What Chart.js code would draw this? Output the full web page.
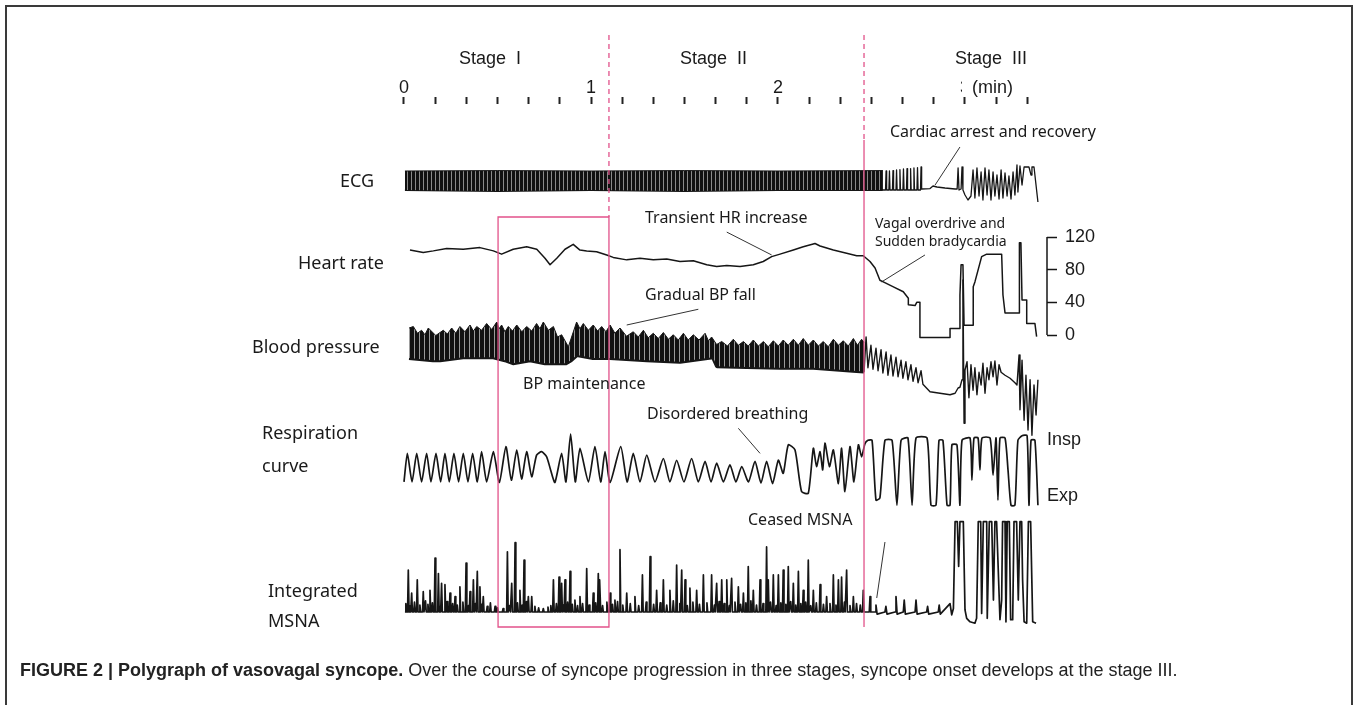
<!DOCTYPE html>
<html>
<head>
<meta charset="utf-8">
<script src="https://cdn.jsdelivr.net/npm/chart.js@4.4.1/dist/chart.umd.min.js"></script>
<style>
  html, body { margin: 0; padding: 0; background: #fff; }
  #page { position: relative; width: 1354px; height: 705px; overflow: hidden; }
  #frame { position: absolute; left: 5px; top: 5px; width: 1348px; height: 720px; border: 2px solid #3a3a3a; border-bottom: none; box-sizing: border-box; }
  #chart { position: absolute; left: 0; top: 0; }
  .lbl { position: absolute; transform: translateY(-50%); white-space: pre; color: #1a1a1a; line-height: 1; }
  .trace { font-family: "Noto Sans", sans-serif; font-size: 18px; }
  .note { font-family: "Noto Sans", sans-serif; font-size: 16px; }
  .note-sm { font-family: "Noto Sans", sans-serif; font-size: 14px; line-height: 18px; }
  .arial { font-family: "Liberation Sans", Arial, sans-serif; font-size: 18px; }
  .min { background: #fff; padding-left: 10px; }
  #caption { position: absolute; left: 20px; top: 660px; font-family: "Liberation Sans", Arial, sans-serif; font-size: 18px; color: #222; white-space: nowrap; }
</style>
</head>
<body>
<div id="page">
  <div id="frame"></div>
  <canvas id="chart" width="1354" height="705"></canvas>

  <div class="lbl arial" style="left:459px;top:58px">Stage  I</div>
  <div class="lbl arial" style="left:680px;top:58px">Stage  II</div>
  <div class="lbl arial" style="left:955px;top:58px">Stage  III</div>
  <div class="lbl arial min" style="left:962px;top:87px">(min)</div>

  <div class="lbl trace" style="left:340px;top:180px">ECG</div>
  <div class="lbl trace" style="left:298px;top:262px">Heart rate</div>
  <div class="lbl trace" style="left:252px;top:346px">Blood pressure</div>
  <div class="lbl trace" style="left:262px;top:432px">Respiration</div>
  <div class="lbl trace" style="left:262px;top:465px">curve</div>
  <div class="lbl trace" style="left:268px;top:590px">Integrated</div>
  <div class="lbl trace" style="left:268px;top:620px">MSNA</div>

  <div class="lbl note" style="left:890px;top:131px">Cardiac arrest and recovery</div>
  <div class="lbl note" style="left:645px;top:217px">Transient HR increase</div>
  <div class="lbl note-sm" style="left:875px;top:232px">Vagal overdrive and<br>Sudden bradycardia</div>
  <div class="lbl note" style="left:645px;top:294px">Gradual BP fall</div>
  <div class="lbl note" style="left:523px;top:383px">BP maintenance</div>
  <div class="lbl note" style="left:647px;top:413px">Disordered breathing</div>
  <div class="lbl note" style="left:748px;top:519px">Ceased MSNA</div>

  <div class="lbl arial" style="left:1047px;top:439px">Insp</div>
  <div class="lbl arial" style="left:1047px;top:495px">Exp</div>

  <div id="caption"><b>FIGURE 2 | Polygraph of vasovagal syncope.</b> Over the course of syncope progression in three stages, syncope onset develops at the stage III.</div>
</div>

<script>
// time axis (min)
const X_TICKS = [0, 0.1667, 0.3333, 0.5, 0.6667, 0.8333, 1, 1.1667, 1.3333, 1.5, 1.6667, 1.8333, 2,
  2.1667, 2.3333, 2.5, 2.6667, 2.8333, 3, 3.1667, 3.3333];
const X_LABELED = [0, 1, 2, 3];
const STAGE_BOUNDS = [1.096, 2.46];
const HIGHLIGHT_FROM = 0.503;

// heart rate scale (bpm)
const HR_TICKS = [0, 40, 80, 120];

// ECG (mV-ish): dense beats shown as envelope, then stage III trace
const ECG_BAND_T = [0.005, 0.5, 1.0, 1.5, 2.0, 2.561];
const ECG_BAND_TOP = [0.95, 0.97, 0.95, 0.97, 0.95, 0.97];
const ECG_BAND_BOTTOM = [0, -0.05, 0, -0.05, 0, 0];
const ECG3_T = [2.561, 2.575, 2.578, 2.581, 2.593, 2.596, 2.599, 2.612, 2.615, 2.618, 2.631, 2.634, 2.637,
  2.649, 2.652, 2.655, 2.668, 2.671, 2.674, 2.687, 2.690, 2.693, 2.706, 2.709, 2.712, 2.724, 2.727, 2.730,
  2.743, 2.746, 2.749, 2.762, 2.765, 2.768, 2.813, 2.829, 2.850, 2.893, 2.947, 2.958, 2.963, 2.968,
  2.979, 2.984, 2.989, 3.0, 3.016, 3.032, 3.043, 3.053, 3.064, 3.075, 3.086, 3.096, 3.107, 3.118,
  3.128, 3.139, 3.150, 3.160, 3.171, 3.182, 3.193, 3.203, 3.214, 3.225, 3.235, 3.246, 3.257, 3.267,
  3.278, 3.283, 3.294, 3.305, 3.316, 3.342, 3.353, 3.358, 3.369, 3.390];
const ECG3_V = [0, 0, 0.95, 0, 0, 0.95, 0, 0, 0.97, 0, 0, 1.0, 0,
  0, 1.02, 0, 0, 1.05, 0, 0, 1.07, 0, 0, 1.07, 0, 0, 1.1, 0,
  0, 1.12, 0, 0, 1.15, 0.05, 0.07, 0.2, 0.15, 0.1, 0.05, 0.05, 1.1, 0.0,
  0.05, 1.15, 0, -0.25, -0.5, -0.3, 1.0, -0.4, 1.1, -0.3, 0.9, -0.5, 1.1, -0.25,
  1.0, -0.5, 0.9, -0.3, 0.75, -0.45, 1.0, -0.4, 0.85, -0.3, 0.7, -0.45, 0.9, -0.25,
  1.25, -0.1, 1.2, 0.25, 1.15, 1.15, 0.75, 1.15, 1.15, -0.6];

// heart rate (bpm)
const HR_T = [0.032, 0.103, 0.157, 0.228, 0.317, 0.406, 0.478, 0.522, 0.584, 0.656, 0.710, 0.754, 0.781,
  0.817, 0.861, 0.905, 0.941, 0.977, 1.030, 1.084, 1.119, 1.191, 1.262, 1.333, 1.405, 1.476, 1.547,
  1.619, 1.672, 1.726, 1.797, 1.868, 1.921, 1.966, 2.011, 2.082, 2.135, 2.198, 2.225, 2.296, 2.367,
  2.421, 2.456, 2.492, 2.519, 2.545, 2.563, 2.617, 2.670, 2.697, 2.697, 2.733, 2.742, 2.759, 2.759,
  2.920, 2.920, 2.973, 2.973, 2.979, 2.989, 2.995, 3.044, 3.044, 3.053, 3.089, 3.116, 3.196, 3.203,
  3.214, 3.289, 3.291, 3.299, 3.305, 3.330, 3.330, 3.374, 3.383];
const HR_BPM = [104, 101, 103, 106, 105, 107, 103, 99, 105, 108, 105, 94, 86,
  94, 105, 111, 104, 103, 102, 98, 95, 92, 94, 92, 93, 90, 91,
  86, 84, 85, 84, 86, 90, 96, 99, 104, 108, 112, 109, 104, 100,
  97, 97, 90, 82, 67, 65, 59, 53, 45, 37, 36, 40, 40, -3,
  -3, 8, 8, 49, 86, 86, 12, 12, 59, 65, 96, 99, 99, 49,
  27, 27, 113, 113, 43, 43, 14, 14, -2];

// blood pressure (mmHg): systolic peaks / diastolic floor of the beat band, then stage III trace
const BP_SYS_T = [0.027, 0.050, 0.072, 0.094, 0.112, 0.130, 0.170, 0.210, 0.232, 0.255, 0.277, 0.299,
  0.326, 0.353, 0.371, 0.389, 0.415, 0.442, 0.469, 0.496, 0.509, 0.522, 0.540, 0.558, 0.580, 0.603,
  0.630, 0.656, 0.683, 0.709, 0.727, 0.745, 0.772, 0.799, 0.821, 0.843, 0.879, 0.923, 0.941, 0.959,
  0.986, 1.012, 1.035, 1.057, 1.080, 1.102, 1.128, 1.155, 1.190, 1.226, 1.253, 1.280, 1.306, 1.333,
  1.360, 1.387, 1.414, 1.440, 1.467, 1.494, 1.520, 1.547, 1.578, 1.610, 1.628, 1.645, 1.672, 1.699,
  1.730, 1.761, 1.788, 1.815, 1.841, 1.868, 1.895, 1.922, 1.948, 1.975, 2.002, 2.028, 2.055, 2.082,
  2.109, 2.135, 2.162, 2.189, 2.216, 2.242, 2.269, 2.296, 2.323, 2.349, 2.376, 2.403, 2.425, 2.447, 2.460];
const BP_SYS = [116, 118, 109, 113, 107, 116, 106, 113, 108, 116, 109, 118,
  111, 120, 112, 118, 113, 122, 114, 124, 115, 120, 111, 118, 112, 120,
  111, 118, 112, 122, 115, 124, 113, 118, 104, 107, 91, 124, 115, 122,
  113, 120, 112, 118, 111, 120, 109, 116, 105, 111, 104, 113, 103, 109,
  102, 110, 101, 107, 100, 109, 100, 107, 100, 109, 99, 104, 94, 98,
  92, 101, 93, 98, 92, 100, 92, 98, 91, 99, 92, 100, 93, 101,
  93, 102, 93, 100, 92, 98, 91, 101, 93, 99, 92, 102, 93, 101, 97];
const BP_DIA_T = [0.027, 0.155, 0.193, 0.316, 0.478, 0.540, 0.583, 0.674, 0.754, 0.866, 0.893, 0.925,
  1.011, 1.102, 1.299, 1.476, 1.652, 1.674, 1.833, 2.011, 2.189, 2.401, 2.460];
const BP_DIA = [76, 73, 73, 77, 77, 73, 69, 73, 69, 69, 73, 80,
  76, 76, 73, 71, 77, 65, 64, 63, 63, 59, 58];
const BP3_T = [2.460, 2.471, 2.481, 2.497, 2.508, 2.524, 2.535, 2.551, 2.561, 2.578, 2.588, 2.604, 2.615,
  2.631, 2.642, 2.658, 2.668, 2.684, 2.695, 2.711, 2.722, 2.738, 2.749, 2.765, 2.775, 2.813, 2.866,
  2.920, 2.947, 2.963, 2.973, 2.984, 2.989, 2.995, 3.0, 3.011, 3.021, 3.032, 3.043, 3.053, 3.064,
  3.075, 3.086, 3.096, 3.107, 3.118, 3.128, 3.139, 3.150, 3.160, 3.171, 3.182, 3.193, 3.214, 3.241,
  3.267, 3.278, 3.289, 3.294, 3.305, 3.316, 3.326, 3.337, 3.348, 3.358, 3.369, 3.380, 3.390];
const BP3_MM = [57, 104, 63, 93, 61, 89, 59, 87, 56, 84, 53, 80, 52,
  77, 51, 73, 49, 71, 47, 67, 45, 63, 43, 59, 41, 31, 29,
  27, 29, 36, 37, 47, 180, -11, 60, 71, 23, 67, 33, 63, 27,
  57, 40, 69, 29, 63, 47, 71, 51, 72, 40, 67, 57, 53, 49,
  43, 40, 80, 7, 73, -7, 53, -20, 47, -27, 40, 0, 47];

// respiration (% of Exp..Insp span)
const RESP_T = [0.000, 0.018, 0.043, 0.068, 0.094, 0.121, 0.144, 0.171, 0.196, 0.219, 0.242, 0.267, 0.292,
  0.317, 0.342, 0.367, 0.392, 0.415, 0.442, 0.478, 0.510, 0.545, 0.574, 0.603, 0.629, 0.656, 0.683,
  0.709, 0.736, 0.763, 0.784, 0.807, 0.843, 0.866, 0.891, 0.916, 0.941, 0.986, 1.021, 1.052, 1.075,
  1.102, 1.159, 1.193, 1.226, 1.262, 1.298, 1.342, 1.387, 1.422, 1.458, 1.497, 1.538, 1.574, 1.610,
  1.642, 1.672, 1.708, 1.743, 1.775, 1.806, 1.842, 1.877, 1.909, 1.939, 1.971, 2.002, 2.028, 2.055,
  2.091, 2.126, 2.162, 2.189, 2.206, 2.225, 2.239, 2.251, 2.275, 2.296, 2.323, 2.340, 2.358, 2.385,
  2.406, 2.430, 2.447, 2.465, 2.481, 2.503, 2.524, 2.545, 2.572, 2.610, 2.636, 2.658, 2.695, 2.717,
  2.738, 2.797, 2.818, 2.845, 2.861, 2.882, 2.904, 2.920, 2.930, 2.957, 2.973, 2.984, 3.027, 3.037,
  3.048, 3.070, 3.080, 3.091, 3.134, 3.150, 3.166, 3.176, 3.187, 3.214, 3.230, 3.246, 3.267, 3.283,
  3.305, 3.332, 3.342, 3.353, 3.374, 3.390];
const RESP_PCT = [23, 73, 23, 73, 23, 73, 23, 73, 23, 73, 23, 73, 23,
  73, 23, 73, 23, 76, 23, 76, 22, 85, 26, 79, 28, 76, 32,
  70, 76, 67, 44, 22, 73, 23, 107, 23, 82, 23, 85, 23, 76,
  22, 85, 23, 73, 23, 70, 23, 64, 23, 61, 23, 64, 23, 59,
  23, 56, 23, 53, 23, 50, 23, 59, 21, 59, 20, 61, 38, 88,
  79, 6, 3, 82, 50, 76, 44, 91, 50, 79, 20, 82, 6, 85,
  23, 88, 67, 90, 96, 96, -9, -5, 96, 96, -18, 96, 100, -18,
  100, 100, -18, -18, 96, 96, -18, -18, 88, 88, -18, 96, 100, 26,
  100, 100, 44, 100, 100, 35, 100, -9, 100, 100, 44, -18, -18, 96,
  104, 104, -18, 96, 96, -18];

// integrated MSNA (a.u.): bursts in stages I-II (large, then small ripples), then stage III trace
const MSNA_SPIKE_T = [0.023, 0.041, 0.071, 0.103, 0.139, 0.166, 0.184, 0.201, 0.219, 0.246, 0.273, 0.299,
  0.332, 0.353, 0.371, 0.392, 0.406, 0.424, 0.487, 0.553, 0.576, 0.594, 0.620, 0.642, 0.665, 0.683,
  0.799, 0.829, 0.843, 0.861, 0.888, 0.914, 0.941, 0.977, 1.012, 1.039, 1.048, 1.102, 1.128, 1.155,
  1.191, 1.235, 1.275, 1.316, 1.351, 1.387, 1.422, 1.458, 1.485, 1.503, 1.529, 1.565, 1.601, 1.645,
  1.672, 1.699, 1.726, 1.752, 1.788, 1.815, 1.841, 1.868, 1.904, 1.939, 1.948, 1.975, 2.002, 2.028,
  2.055, 2.082, 2.109, 2.135, 2.162, 2.189, 2.225, 2.260, 2.296, 2.323, 2.340, 2.367, 2.403, 2.456,
  2.492];
const MSNA_SPIKE_H = [60, 27, 46, 29, 31, 77, 55, 41, 39, 27, 22, 36,
  70, 29, 46, 58, 36, 22, 8, 86, 41, 99, 31, 74, 22, 22,
  46, 50, 41, 46, 58, 17, 22, 62, 27, 55, 46, 27, 17, 89,
  27, 22, 53, 79, 31, 46, 31, 67, 60, 46, 34, 31, 53, 53,
  41, 46, 46, 48, 36, 27, 65, 31, 46, 93, 46, 53, 53, 60,
  65, 41, 58, 31, 74, 31, 39, 22, 53, 46, 50, 60, 22, 31,
  22];
const MSNA_RIPPLE_T = [0.010, 0.032, 0.056, 0.085, 0.115, 0.128, 0.152, 0.192, 0.230, 0.260, 0.285, 0.315,
  0.345, 0.382, 0.415, 0.445, 0.462, 0.500, 0.530, 0.565, 0.607, 0.632, 0.655, 0.700, 0.720, 0.745,
  0.770, 0.785, 0.815, 0.852, 0.875, 0.900, 0.928, 0.955, 0.990, 1.025, 1.062, 1.085, 1.115, 1.142,
  1.170, 1.210, 1.255, 1.295, 1.335, 1.370, 1.405, 1.440, 1.475, 1.515, 1.545, 1.580, 1.620, 1.660,
  1.685, 1.712, 1.740, 1.770, 1.800, 1.828, 1.855, 1.885, 1.920, 1.960, 1.990, 2.015, 2.042, 2.068,
  2.095, 2.122, 2.148, 2.175, 2.205, 2.243, 2.278, 2.310, 2.355, 2.385, 2.420, 2.440];
const MSNA_RIPPLE_H = [12, 9, 14, 10, 16, 11, 13, 8, 15, 12, 10, 14,
  9, 12, 11, 8, 13, 6, 5, 9, 13, 10, 15, 8, 6, 5,
  7, 9, 12, 10, 14, 11, 9, 12, 10, 13, 9, 14, 11, 15,
  10, 12, 9, 14, 11, 13, 10, 16, 12, 9, 14, 11, 13, 10,
  15, 12, 9, 14, 11, 13, 16, 10, 12, 14, 9, 13, 11, 15,
  10, 12, 14, 9, 13, 11, 12, 10, 14, 9, 12, 10];
const MSNA3_T = [2.519, 2.524, 2.530, 2.572, 2.577, 2.583, 2.626, 2.631, 2.637, 2.670, 2.675, 2.681,
  2.733, 2.738, 2.744, 2.795, 2.800, 2.806, 2.857, 2.862, 2.868, 2.920, 2.929, 2.938, 2.947, 2.959,
  2.966, 2.973, 2.991, 3.000, 3.009, 3.027, 3.053, 3.062, 3.071, 3.084, 3.089, 3.098, 3.116, 3.119,
  3.130, 3.143, 3.152, 3.160, 3.169, 3.187, 3.196, 3.201, 3.214, 3.219, 3.226, 3.237, 3.244, 3.255,
  3.262, 3.276, 3.285, 3.294, 3.303, 3.308, 3.316, 3.330, 3.339, 3.351, 3.362, 3.380];
const MSNA3_V = [0, 10, -3, 0, 8, -3, 0, 22, -3, 0, 17, -3,
  0, 17, -3, 0, 8, -3, 0, 10, -3, 12, -4, 5, 129, 129,
  65, 129, 129, 3, -9, -14, -16, -9, 129, 129, -2, 129, 129, -9,
  129, 129, 17, 129, 129, -11, 17, 129, 129, -14, 129, 129, -11, -11,
  129, 129, 17, 129, 129, 46, -14, -16, 129, 129, -14, -16];

// leader lines [t0, v0, t1, v1] in each trace's units
const LEAD_ECG = [2.973, 2.15, 2.840, 0.25];
const LEAD_HR_UP = [1.726, 126, 1.966, 98];
const LEAD_HR_DOWN = [2.786, 98, 2.554, 65];
const LEAD_BP = [1.574, 141, 1.191, 120];
const LEAD_RESP = [1.788, 117, 1.904, 73];
const LEAD_MSNA = [2.572, 100, 2.528, 20];

// ---- layout ----
const W = 1354, H = 705;
const AREA = { top: 104, bottom: 650, right: 1047 };
const X_ZERO_PX = 404, PX_PER_MIN = 187;
const TRACE_PLACE = {
  ecg: { ref: 0, px: 190, perUnit: 20 },
  hr: { ref: 0, px: 335, perUnit: 98 / 120 },
  bp: { ref: 120, px: 325, perUnit: 0.75 },
  resp: { ref: 0, px: 495, perUnit: 0.57 },
  msna: { ref: 0, px: 612, perUnit: 0.7 },
};
const PINK = '#e2528a';
const INK = '#161616';

function yScale(place, extra) {
  const max = place.ref + (place.px - AREA.top) / place.perUnit;
  const min = max - (AREA.bottom - AREA.top) / place.perUnit;
  return Object.assign({ type: 'linear', axis: 'y', display: false, min, max }, extra || {});
}

function pts(ts, vs) {
  return ts.map((t, i) => ({ x: t, y: vs[i] }));
}

// each burst is drawn as a narrow peak rising from the baseline
function bursts(ts, hs) {
  const list = ts.map((t, i) => [t, hs[i]]).sort((a, b) => a[0] - b[0]);
  const out = [{ x: 0.005, y: 0 }];
  list.forEach(([t, h]) => {
    out.push({ x: t - 0.004, y: 0 }, { x: t, y: h }, { x: t + 0.004, y: 0 });
  });
  return out;
}

function leader(seg, axis) {
  return {
    data: [{ x: seg[0], y: seg[1] }, { x: seg[2], y: seg[3] }],
    yAxisID: axis, borderColor: '#333', borderWidth: 1, fill: false,
  };
}

function stripes(colors) {
  const c = document.createElement('canvas');
  c.width = colors.length;
  c.height = 1;
  const g = c.getContext('2d');
  colors.forEach((col, i) => { g.fillStyle = col; g.fillRect(i, 0, 1, 1); });
  return g.createPattern(c, 'repeat');
}

const stageMarks = {
  id: 'stageMarks',
  afterDatasetsDraw(chart) {
    const { ctx } = chart;
    const x = chart.scales.x;
    const hr = chart.scales.yHr;
    ctx.save();

    // heart-rate scale bar
    ctx.strokeStyle = INK;
    ctx.lineWidth = 1.5;
    ctx.beginPath();
    ctx.moveTo(hr.left, hr.getPixelForValue(0));
    ctx.lineTo(hr.left, hr.getPixelForValue(120));
    ctx.stroke();

    // stage boundaries and highlight box
    const b1 = x.getPixelForValue(STAGE_BOUNDS[0]);
    const b2 = x.getPixelForValue(STAGE_BOUNDS[1]);
    const h0 = x.getPixelForValue(HIGHLIGHT_FROM);
    ctx.strokeStyle = PINK;
    ctx.lineWidth = 1.3;
    ctx.setLineDash([5, 4]);
    ctx.beginPath();
    ctx.moveTo(b1, 35); ctx.lineTo(b1, 217);
    ctx.moveTo(b2, 35); ctx.lineTo(b2, 140);
    ctx.stroke();
    ctx.setLineDash([]);
    ctx.beginPath();
    ctx.moveTo(b2, 140); ctx.lineTo(b2, 627);
    ctx.rect(h0, 217, b1 - h0, 410);
    ctx.stroke();
    ctx.restore();
  },
};

const ecgFill = stripes(['#111', '#111', '#111', '#8a8a8a']);
const bpFill = stripes(['#111', '#111', '#111', '#111', '#9a9a9a']);

new Chart(document.getElementById('chart'), {
  type: 'line',
  data: {
    datasets: [
      { data: pts(ECG_BAND_T, ECG_BAND_TOP), yAxisID: 'yEcg', fill: '+1', backgroundColor: ecgFill, borderColor: INK, borderWidth: 1 },
      { data: pts(ECG_BAND_T, ECG_BAND_BOTTOM), yAxisID: 'yEcg', fill: false, borderColor: INK, borderWidth: 2 },
      { data: pts(ECG3_T, ECG3_V), yAxisID: 'yEcg', fill: false, borderColor: INK, borderWidth: 1.3 },
      { data: pts(HR_T, HR_BPM), yAxisID: 'yHr', fill: false, borderColor: INK, borderWidth: 1.5 },
      { data: pts(BP_SYS_T, BP_SYS), yAxisID: 'yBp', fill: '+1', backgroundColor: bpFill, borderColor: INK, borderWidth: 1 },
      { data: pts(BP_DIA_T, BP_DIA), yAxisID: 'yBp', fill: false, borderColor: INK, borderWidth: 4 },
      { data: pts(BP3_T, BP3_MM), yAxisID: 'yBp', fill: false, borderColor: INK, borderWidth: 1.4 },
      { data: pts(RESP_T, RESP_PCT), yAxisID: 'yResp', fill: false, borderColor: INK, borderWidth: 1.7, tension: 0.2 },
      {
        data: bursts(MSNA_SPIKE_T.concat(MSNA_RIPPLE_T), MSNA_SPIKE_H.concat(MSNA_RIPPLE_H)).concat(pts(MSNA3_T, MSNA3_V)),
        yAxisID: 'yMsna', fill: false, borderColor: INK, borderWidth: 1.7,
      },
      leader(LEAD_ECG, 'yEcg'),
      leader(LEAD_HR_UP, 'yHr'),
      leader(LEAD_HR_DOWN, 'yHr'),
      leader(LEAD_BP, 'yBp'),
      leader(LEAD_RESP, 'yResp'),
      leader(LEAD_MSNA, 'yMsna'),
    ],
  },
  options: {
    responsive: false,
    animation: false,
    events: [],
    layout: { padding: { top: 64, bottom: H - AREA.bottom, left: 0, right: 0 } },
    elements: { point: { radius: 0 }, line: { tension: 0, borderJoinStyle: 'round' } },
    plugins: { legend: { display: false }, tooltip: { enabled: false } },
    scales: {
      x: {
        type: 'linear',
        axis: 'x',
        position: 'top',
        min: -X_ZERO_PX / PX_PER_MIN,
        max: (AREA.right - X_ZERO_PX) / PX_PER_MIN,
        afterFit: (s) => { s.height = 40; },
        afterBuildTicks: (s) => { s.ticks = X_TICKS.map((value) => ({ value })); },
        ticks: {
          autoSkip: false, maxRotation: 0, padding: -2, color: '#1a1a1a',
          font: { family: '"Liberation Sans", Arial, sans-serif', size: 18 },
          callback: (v) => (X_LABELED.includes(v) ? String(v) : ''),
        },
        grid: { drawOnChartArea: false, drawTicks: true, tickLength: 7, tickWidth: 2, tickColor: '#222' },
        border: { display: false },
      },
      yHr: yScale(TRACE_PLACE.hr, {
        display: true,
        position: 'right',
        afterFit: (s) => { s.width = W - AREA.right; },
        afterBuildTicks: (s) => { s.ticks = HR_TICKS.map((value) => ({ value })); },
        ticks: { padding: 8, color: '#1a1a1a', font: { family: '"Liberation Sans", Arial, sans-serif', size: 18 } },
        grid: { drawOnChartArea: false, drawTicks: true, tickLength: 10, tickWidth: 1.5, tickColor: INK },
        border: { display: false },
      }),
      yEcg: yScale(TRACE_PLACE.ecg),
      yBp: yScale(TRACE_PLACE.bp),
      yResp: yScale(TRACE_PLACE.resp),
      yMsna: yScale(TRACE_PLACE.msna),
    },
  },
  plugins: [stageMarks],
});
</script>
</body>
</html>
